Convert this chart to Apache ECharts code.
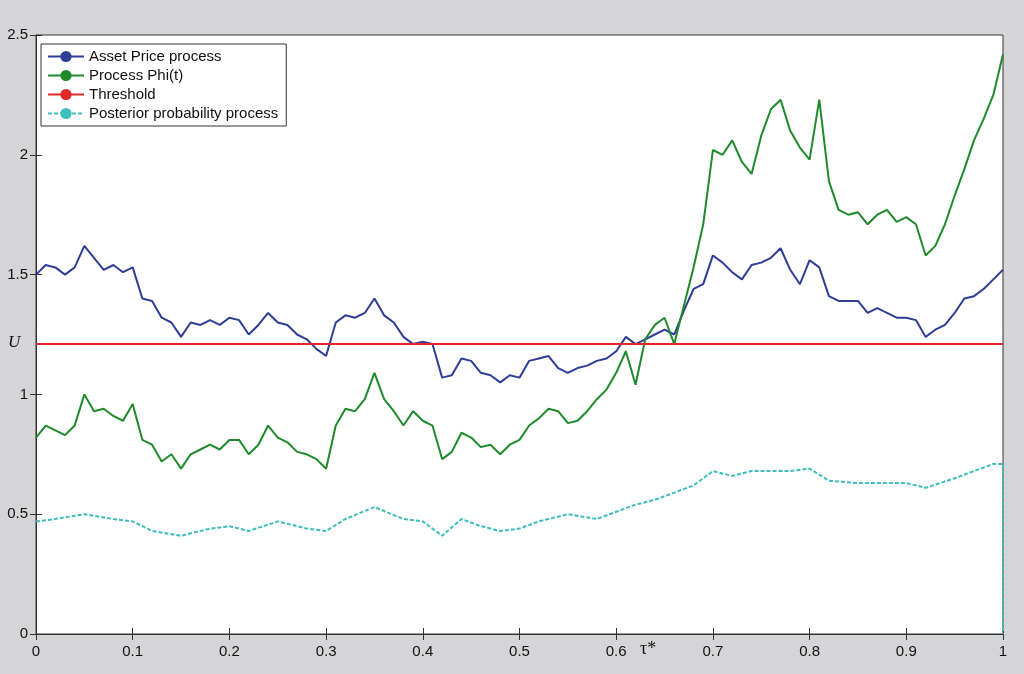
<!DOCTYPE html>
<html>
<head>
<meta charset="utf-8">
<script src="https://cdn.jsdelivr.net/npm/echarts@6/dist/echarts.min.js"></script>
<style>html,body{margin:0;padding:0;background:#d5d5d8;}#chart{width:1024px;height:674px;}</style>
</head>
<body>
<div id="chart"></div>
<script>
// time grid for asset price and Phi(t), step 0.01
var tGrid = [];
for (var i = 0; i <= 100; i++) tGrid.push(+(i / 100).toFixed(2));

var assetPrice = [1.50,1.54,1.53,1.50,1.53,1.62,1.57,1.52,1.54,1.51,1.53,1.40,1.39,1.32,1.30,1.24,1.30,1.29,1.31,1.29,
    1.32,1.31,1.25,1.29,1.34,1.30,1.29,1.25,1.23,1.19,1.16,1.30,1.33,1.32,1.34,1.40,1.33,1.30,1.24,1.21,
    1.22,1.21,1.07,1.08,1.15,1.14,1.09,1.08,1.05,1.08,1.07,1.14,1.15,1.16,1.11,1.09,1.11,1.12,1.14,1.15,
    1.18,1.24,1.21,1.23,1.25,1.27,1.25,1.35,1.44,1.46,1.58,1.55,1.51,1.48,1.54,1.55,1.57,1.61,1.52,1.46,
    1.56,1.53,1.41,1.39,1.39,1.39,1.34,1.36,1.34,1.32,1.32,1.31,1.24,1.27,1.29,1.34,1.40,1.41,1.44,1.48,1.52];

var phi = [0.82,0.87,0.85,0.83,0.87,1.00,0.93,0.94,0.91,0.89,0.96,0.81,0.79,0.72,0.75,0.69,0.75,0.77,0.79,0.77,
    0.81,0.81,0.75,0.79,0.87,0.82,0.80,0.76,0.75,0.73,0.69,0.87,0.94,0.93,0.98,1.09,0.98,0.93,0.87,0.93,
    0.89,0.87,0.73,0.76,0.84,0.82,0.78,0.79,0.75,0.79,0.81,0.87,0.90,0.94,0.93,0.88,0.89,0.93,0.98,1.02,
    1.09,1.18,1.04,1.23,1.29,1.32,1.21,1.37,1.53,1.71,2.02,2.00,2.06,1.97,1.92,2.08,2.19,2.23,2.10,2.03,
    1.98,2.23,1.89,1.77,1.75,1.76,1.71,1.75,1.77,1.72,1.74,1.71,1.58,1.62,1.71,1.83,1.94,2.06,2.15,2.25,2.42];

var postT = [0,0.02,0.05,0.08,0.10,0.12,0.15,0.18,0.20,0.22,0.25,0.28,0.30,0.32,0.35,0.38,0.40,0.42,0.44,0.46,
    0.48,0.50,0.52,0.55,0.58,0.60,0.62,0.64,0.66,0.68,0.70,0.72,0.74,0.76,0.78,0.80,0.82,0.85,0.88,0.90,
    0.92,0.95,0.97,0.99,1.00,1.00];
var postProb = [0.47,0.48,0.50,0.48,0.47,0.43,0.41,0.44,0.45,0.43,0.47,0.44,0.43,0.48,0.53,0.48,0.47,0.41,0.48,0.45,
    0.43,0.44,0.47,0.50,0.48,0.51,0.54,0.56,0.59,0.62,0.68,0.66,0.68,0.68,0.68,0.69,0.64,0.63,0.63,0.63,
    0.61,0.65,0.68,0.71,0.71,0.0];

var threshold = 1.21;

function pairs(xs, ys) {
    return xs.map(function (x, i) { return [x, ys[i]]; });
}

var axisLine = {show: true, lineStyle: {color: '#333', width: 1}};
var tick = {show: true, inside: true, length: 6, lineStyle: {color: '#333'}};
var lbl = {color: '#111', fontFamily: 'Arial, Liberation Sans', fontSize: 15};

var myChart = echarts.init(document.getElementById('chart'));
var option = {
    backgroundColor: '#d5d5d8',
    animation: false,
    grid: {left: 36, right: 21, top: 35, bottom: 40, show: true, backgroundColor: '#fff', borderColor: '#333', borderWidth: 1},
    legend: {
        show: true, orient: 'vertical', left: 41, top: 44, padding: [5, 8, 5, 6], itemGap: 4,
        backgroundColor: '#fff', borderColor: '#333', borderWidth: 1,
        itemWidth: 36, itemHeight: 14,
        textStyle: {fontFamily: 'Arial, Liberation Sans', fontSize: 15, color: '#111'}
    },
    xAxis: [
        {type: 'value', min: 0, max: 1, interval: 0.1, axisLine: axisLine, axisTick: tick, splitLine: {show: false},
         axisLabel: Object.assign({margin: 10, formatter: function (v) { return String(+v.toFixed(1)); }}, lbl)},
        {type: 'value', position: 'top', min: 0, max: 1, interval: 0.1, axisLine: axisLine, axisTick: tick,
         axisLabel: {show: false}, splitLine: {show: false}}
    ],
    yAxis: [
        {type: 'value', min: 0, max: 2.5, interval: 0.5, axisLine: axisLine, axisTick: tick, splitLine: {show: false},
         axisLabel: Object.assign({margin: 8, formatter: function (v) { return String(v); }}, lbl)},
        {type: 'value', position: 'right', min: 0, max: 2.5, interval: 0.5, axisLine: axisLine, axisTick: tick,
         axisLabel: {show: false}, splitLine: {show: false}}
    ],
    series: [
        {name: 'Asset Price process', type: 'line', showSymbol: false, symbol: 'none', data: pairs(tGrid, assetPrice),
         lineStyle: {color: '#2e3d96', width: 2}, itemStyle: {color: '#2e3d96'}},
        {name: 'Process Phi(t)', type: 'line', showSymbol: false, symbol: 'none', data: pairs(tGrid, phi),
         lineStyle: {color: '#1f8a2b', width: 2}, itemStyle: {color: '#1f8a2b'}},
        {name: 'Threshold', type: 'line', showSymbol: false, symbol: 'none', data: [[0, threshold], [1, threshold]],
         lineStyle: {color: '#e0282a', width: 2}, itemStyle: {color: '#e0282a'}},
        {name: 'Posterior probability process', type: 'line', showSymbol: false, symbol: 'none', data: pairs(postT, postProb),
         lineStyle: {color: '#3ebdbd', width: 2, type: [4, 2]}, itemStyle: {color: '#3ebdbd'}}
    ]
};
myChart.setOption(option);

// MATLAB-style annotations: U at the threshold on the y-axis, tau* on the x-axis
var pU = myChart.convertToPixel({gridIndex: 0}, [0, threshold]);
var pT = myChart.convertToPixel({gridIndex: 0}, [0.633, 0]);
myChart.setOption({
    graphic: [
        {type: 'text', left: pU[0] - 28, top: pU[1] - 10,
         style: {text: 'U', font: 'italic 17px "Liberation Serif", serif', fill: '#111'}},
        {type: 'text', left: pT[0] - 8, top: pT[1] + 6,
         style: {text: 'τ*', font: '18px "Liberation Serif", serif', fill: '#111'}}
    ]
});
</script>
</body>
</html>
